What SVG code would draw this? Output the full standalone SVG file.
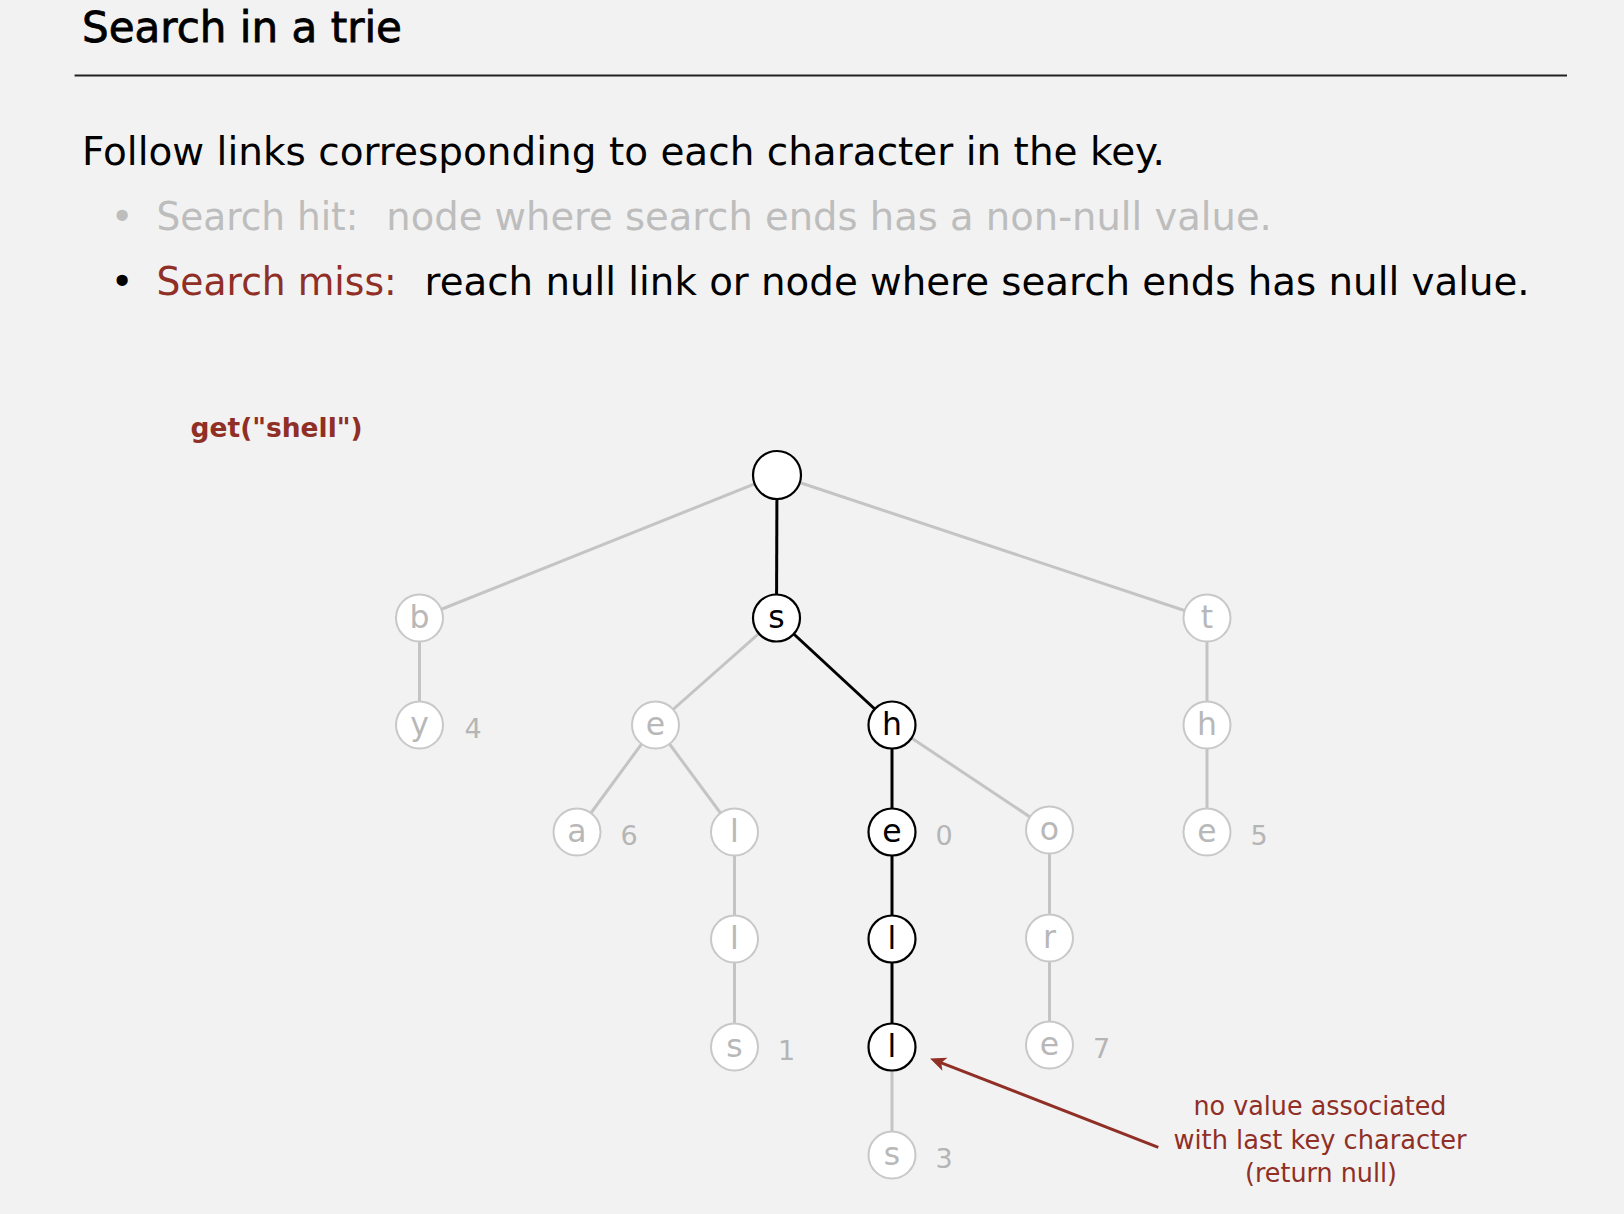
<svg xmlns="http://www.w3.org/2000/svg" width="1624" height="1214" viewBox="0 0 1624 1214">
<defs>
<style>
.bg{fill:#f2f2f2}
.t{font-family:"DejaVu Sans","Liberation Sans",sans-serif}
.title{font-size:43px;fill:#000}
.body{font-size:38.5px;fill:#000}
.hit{fill:#bdbdbd}
.red{fill:#8f2f26}
.get{font-size:26.5px;font-weight:bold;fill:#8f2f26}
.ann{font-size:26px;fill:#8f2f26;text-anchor:middle}
.g-e{stroke:#c4c4c4;stroke-width:3;fill:none}
.b-e{stroke:#000;stroke-width:3;fill:none}
.g-n circle{fill:#fff;stroke:#c8c8c8;stroke-width:2}
.b-n circle{fill:#fff;stroke:#000;stroke-width:2.2}
.g-n text.lbl{fill:#b8b8b8}
.b-n text.lbl{fill:#000}
text.lbl{font-size:31.5px;text-anchor:middle}
g text.val{font-size:27px;fill:#b5b5b5;text-anchor:middle}
.arrow{stroke:#8f2f26;stroke-width:3;fill:none}
</style>
<marker id="ah" markerUnits="userSpaceOnUse" markerWidth="24" markerHeight="20" viewBox="-2 -10 24 20" refX="8" refY="0" orient="auto">
<path d="M0,-7 L16,0 L0,7 L4,0 Z" fill="#8f2f26"/>
</marker>
</defs>
<rect class="bg" x="0" y="0" width="1624" height="1214"/>

<g id="header">
<text class="t title" x="82" y="42" textLength="320" lengthAdjust="spacingAndGlyphs" stroke="#000" stroke-width="0.8">Search in a trie</text>
<line x1="74.6" y1="75.6" x2="1567" y2="75.6" stroke="#222" stroke-width="2"/>
<text class="t body" x="82" y="164.5" textLength="1083" lengthAdjust="spacingAndGlyphs">Follow links corresponding to each character in the key.</text>
<text class="t body hit" x="122" y="230" text-anchor="middle">•</text>
<text class="t body hit" x="156.4" y="230" textLength="202" lengthAdjust="spacingAndGlyphs">Search hit:</text>
<text class="t body hit" x="386.3" y="230" textLength="885.5" lengthAdjust="spacingAndGlyphs">node where search ends has a non-null value.</text>
<text class="t body" x="122" y="295" text-anchor="middle">•</text>
<text class="t body red" x="156.4" y="295" textLength="240.3" lengthAdjust="spacingAndGlyphs">Search miss:</text>
<text class="t body" x="424.6" y="295" textLength="1105" lengthAdjust="spacingAndGlyphs">reach null link or node where search ends has null value.</text>
</g>

<text id="query" class="t get" x="190.6" y="436.5" textLength="172" lengthAdjust="spacingAndGlyphs">get("shell")</text>

<g id="connectors">
<line class="g-e" x1="777" y1="475" x2="419.5" y2="618"/>
<line class="g-e" x1="777" y1="475" x2="1207" y2="618"/>
<line class="g-e" x1="419.5" y1="618" x2="419.5" y2="725"/>
<line class="g-e" x1="776.5" y1="618" x2="655.5" y2="725"/>
<line class="g-e" x1="655.5" y1="725" x2="577" y2="832"/>
<line class="g-e" x1="655.5" y1="725" x2="734.5" y2="832"/>
<line class="g-e" x1="734.5" y1="832" x2="734.5" y2="939"/>
<line class="g-e" x1="734.5" y1="939" x2="734.5" y2="1047"/>
<line class="g-e" x1="892" y1="725" x2="1049.5" y2="830"/>
<line class="g-e" x1="1049.5" y1="830" x2="1049.5" y2="938"/>
<line class="g-e" x1="1049.5" y1="938" x2="1049.5" y2="1045"/>
<line class="g-e" x1="1207" y1="618" x2="1207" y2="725"/>
<line class="g-e" x1="1207" y1="725" x2="1207" y2="832"/>
<line class="g-e" x1="892" y1="1047" x2="892" y2="1155"/>
<line class="b-e" x1="777" y1="475" x2="776.5" y2="618"/>
<line class="b-e" x1="776.5" y1="618" x2="892" y2="725"/>
<line class="b-e" x1="892" y1="725" x2="892" y2="832"/>
<line class="b-e" x1="892" y1="832" x2="892" y2="939"/>
<line class="b-e" x1="892" y1="939" x2="892" y2="1047"/>
<line id="note-arrow" class="arrow" x1="1158.3" y1="1147.3" x2="937.5" y2="1061.4" marker-end="url(#ah)"/>
</g>

<g id="n-root" class="b-n"><circle cx="777" cy="475" r="24"/></g>
<g id="n-b" class="g-n t"><circle cx="419.5" cy="618" r="23.5"/><text class="lbl" x="419.5" y="628">b</text></g>
<g id="n-s" class="b-n t"><circle cx="776.5" cy="618" r="23.5"/><text class="lbl" x="776.5" y="628">s</text></g>
<g id="n-t" class="g-n t"><circle cx="1207" cy="618" r="23.5"/><text class="lbl" x="1207" y="628">t</text></g>
<g id="n-by" class="g-n t"><circle cx="419.5" cy="725" r="23.5"/><text class="lbl" x="419.5" y="735">y</text><text class="val" x="473" y="738">4</text></g>
<g id="n-se" class="g-n t"><circle cx="655.5" cy="725" r="23.5"/><text class="lbl" x="655.5" y="735">e</text></g>
<g id="n-sh" class="b-n t"><circle cx="892" cy="725" r="23.5"/><text class="lbl" x="892" y="735">h</text></g>
<g id="n-th" class="g-n t"><circle cx="1207" cy="725" r="23.5"/><text class="lbl" x="1207" y="735">h</text></g>
<g id="n-sea" class="g-n t"><circle cx="577" cy="832" r="23.5"/><text class="lbl" x="577" y="842">a</text><text class="val" x="629" y="845">6</text></g>
<g id="n-sel" class="g-n t"><circle cx="734.5" cy="832" r="23.5"/><text class="lbl" x="734.5" y="842">l</text></g>
<g id="n-she" class="b-n t"><circle cx="892" cy="832" r="23.5"/><text class="lbl" x="892" y="842">e</text><text class="val" x="944" y="845">0</text></g>
<g id="n-sho" class="g-n t"><circle cx="1049.5" cy="830" r="23.5"/><text class="lbl" x="1049.5" y="840">o</text></g>
<g id="n-the" class="g-n t"><circle cx="1207" cy="832" r="23.5"/><text class="lbl" x="1207" y="842">e</text><text class="val" x="1259" y="845">5</text></g>
<g id="n-sell" class="g-n t"><circle cx="734.5" cy="939" r="23.5"/><text class="lbl" x="734.5" y="949">l</text></g>
<g id="n-shel" class="b-n t"><circle cx="892" cy="939" r="23.5"/><text class="lbl" x="892" y="949">l</text></g>
<g id="n-shor" class="g-n t"><circle cx="1049.5" cy="938" r="23.5"/><text class="lbl" x="1049.5" y="948">r</text></g>
<g id="n-sells" class="g-n t"><circle cx="734.5" cy="1047" r="23.5"/><text class="lbl" x="734.5" y="1057">s</text><text class="val" x="786.5" y="1060">1</text></g>
<g id="n-shell" class="b-n t"><circle cx="892" cy="1047" r="23.5"/><text class="lbl" x="892" y="1057">l</text></g>
<g id="n-shore" class="g-n t"><circle cx="1049.5" cy="1045" r="23.5"/><text class="lbl" x="1049.5" y="1055">e</text><text class="val" x="1101.5" y="1058">7</text></g>
<g id="n-shells" class="g-n t"><circle cx="892" cy="1155" r="23.5"/><text class="lbl" x="892" y="1165">s</text><text class="val" x="944" y="1168">3</text></g>

<g id="annotation" class="t">
<text class="ann" x="1320" y="1115" textLength="253" lengthAdjust="spacingAndGlyphs">no value associated</text>
<text class="ann" x="1320" y="1148.5" textLength="293" lengthAdjust="spacingAndGlyphs">with last key character</text>
<text class="ann" x="1321" y="1182" textLength="152" lengthAdjust="spacingAndGlyphs">(return null)</text>
</g>
</svg>
